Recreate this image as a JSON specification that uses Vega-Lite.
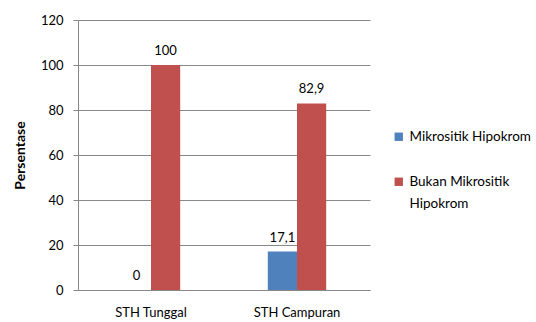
{
  "$schema": "https://vega.github.io/schema/vega-lite/v6.json",
  "width": 292,
  "height": 270,
  "autosize": {"type": "none"},
  "padding": {"left": 78, "top": 20, "right": 166, "bottom": 32},
  "background": "white",
  "config": {
    "font": "Lato",
    "view": {"stroke": null}
  },
  "data": {
    "values": [
      {"kelompok": "STH Tunggal", "kategori": "Mikrositik Hipokrom", "nilai": 0, "label": "0"},
      {"kelompok": "STH Tunggal", "kategori": "Bukan Mikrositik Hipokrom", "nilai": 100, "label": "100"},
      {"kelompok": "STH Campuran", "kategori": "Mikrositik Hipokrom", "nilai": 17.1, "label": "17,1"},
      {"kelompok": "STH Campuran", "kategori": "Bukan Mikrositik Hipokrom", "nilai": 82.9, "label": "82,9"}
    ]
  },
  "encoding": {
    "x": {
      "field": "kelompok",
      "type": "nominal",
      "sort": ["STH Tunggal", "STH Campuran"],
      "scale": {"paddingInner": 0.6, "paddingOuter": 0.3},
      "axis": {
        "title": null,
        "labelAngle": 0,
        "ticks": false,
        "labelPadding": 16,
        "labelFontSize": 13,
        "labelColor": "#000000",
        "domainColor": "#888888",
        "labelFont": "Lato"
      }
    },
    "xOffset": {
      "field": "kategori",
      "type": "nominal",
      "sort": ["Mikrositik Hipokrom", "Bukan Mikrositik Hipokrom"]
    },
    "y": {
      "field": "nilai",
      "type": "quantitative",
      "scale": {"domain": [0, 120], "nice": false},
      "axis": {
        "title": "Persentase",
        "titleFontSize": 14,
        "titleFontWeight": "bold",
        "titleColor": "#000000",
        "titlePadding": 13,
        "values": [0, 20, 40, 60, 80, 100, 120],
        "labelFontSize": 13,
        "labelColor": "#000000",
        "labelPadding": 10,
        "tickSize": 5,
        "tickColor": "#888888",
        "domainColor": "#888888",
        "gridColor": "#888888",
        "grid": true
      }
    }
  },
  "layer": [
    {
      "mark": {"type": "bar"},
      "encoding": {
        "color": {
          "field": "kategori",
          "type": "nominal",
          "sort": ["Mikrositik Hipokrom", "Bukan Mikrositik Hipokrom"],
          "scale": {"domain": ["Mikrositik Hipokrom", "Bukan Mikrositik Hipokrom"], "range": ["#4F81BD", "#C0504D"]},
          "legend": {
            "title": null,
            "orient": "none",
            "legendX": 314,
            "legendY": 110,
            "symbolType": "square",
            "symbolSize": 70,
            "symbolStrokeWidth": 0,
            "labelFontSize": 13.5,
            "labelColor": "#000000",
            "labelLimit": 200,
            "rowPadding": 30,
            "labelOffset": 4,
            "labelExpr": "datum.label == 'Bukan Mikrositik Hipokrom' ? ['Bukan Mikrositik', 'Hipokrom'] : datum.label",
            "encode": {"labels": {"update": {"lineHeight": {"value": 22}}}}
          }
        }
      }
    },
    {
      "mark": {"type": "text", "baseline": "bottom", "dy": -7, "fontSize": 13, "color": "#000000"},
      "encoding": {
        "text": {"field": "label", "type": "nominal"}
      }
    }
  ]
}
